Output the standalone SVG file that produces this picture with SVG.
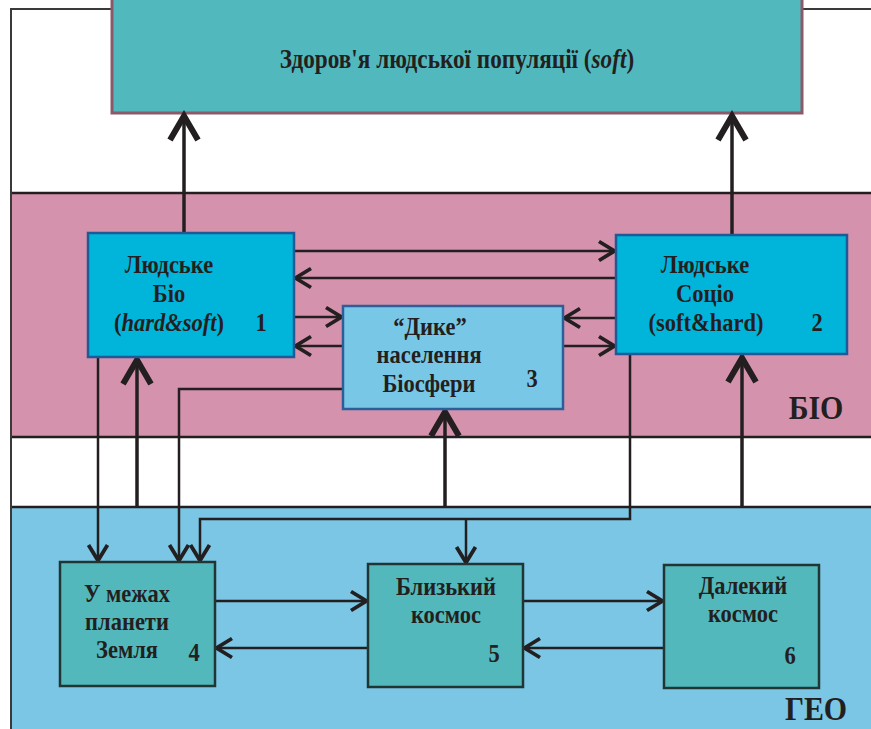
<svg xmlns="http://www.w3.org/2000/svg" width="871" height="729" viewBox="0 0 871 729">
  <style>
    .band-line { stroke: #231f20; stroke-width: 2.5; fill: none; }
    .frame { stroke: #3a3a3a; stroke-width: 2; fill: none; }
    .human { fill: #00b4da; stroke: #1f5a96; stroke-width: 2.5; }
    .wild { fill: #78c7e6; stroke: #2c5f9a; stroke-width: 2.5; }
    .geo { fill: #52b8bb; stroke: #213535; stroke-width: 2.5; }
    .t { font-family: "Liberation Serif", "Times New Roman", serif; font-weight: bold; font-size: 25px; fill: #231f20; text-anchor: middle; }
    .title { font-size: 27px; }
    .big { font-size: 34px; }
    .it { font-style: italic; }
    .thin { stroke: #231f20; stroke-width: 2.5; fill: none; marker-end: url(#ah); }
    .thick { stroke: #231f20; stroke-width: 3.5; fill: none; marker-end: url(#ahBig); }
  </style>
  <defs>
    <marker id="ah" markerUnits="userSpaceOnUse" markerWidth="30" markerHeight="30" viewBox="-25 -15 30 30" refX="0" refY="0" orient="auto" overflow="visible">
      <path d="M-17,-9.5 L-1.5,0 L-17,9.5" fill="none" stroke="#231f20" stroke-width="3.8" stroke-linejoin="miter"/>
    </marker>
    <marker id="ahBig" markerUnits="userSpaceOnUse" markerWidth="40" markerHeight="40" viewBox="-35 -20 40 40" refX="0" refY="0" orient="auto" overflow="visible">
      <path d="M-27,-14 L-3,0 L-27,14" fill="none" stroke="#231f20" stroke-width="6" stroke-linejoin="miter"/>
    </marker>
  </defs>

  <!-- background -->
  <rect x="0" y="0" width="871" height="729" fill="#ffffff"/>

  <!-- BIO band -->
  <rect x="11" y="193" width="862" height="244" fill="#d592ad"/>
  <line class="band-line" x1="11" y1="193" x2="871" y2="193"/>
  <line class="band-line" x1="11" y1="437" x2="871" y2="437"/>

  <!-- GEO band -->
  <rect x="11" y="507" width="862" height="224" fill="#7ac6e4"/>
  <line class="band-line" x1="11" y1="507" x2="871" y2="507"/>

  <!-- outer frame -->
  <path class="frame" d="M11,729 V9 H871"/>

  <!-- top node: population health -->
  <g id="node-health">
    <rect x="112" y="-5" width="690" height="118" fill="#51b9bd" stroke="#8a5a6a" stroke-width="3"/>
    <text class="t title" transform="translate(457,68) scale(0.86,1)">Здоров'я людської популяції (<tspan class="it">soft</tspan>)</text>
  </g>

  <!-- connectors -->
  <g id="connectors">
    <path class="thin" d="M294,251 H616"/>
    <path class="thin" d="M616,278 H294"/>
    <path class="thin" d="M294,317 H343"/>
    <path class="thin" d="M343,346 H294"/>
    <path class="thin" d="M616,318 H563"/>
    <path class="thin" d="M563,346 H616"/>
    <path class="thin" d="M98,357 V562"/>
    <path class="thin" d="M343,389 H179 V562"/>
    <path class="thin" d="M630,355 V519 H200 V562"/>
    <path class="thin" d="M466,519 V564"/>
    <path class="thin" d="M215,601 H368"/>
    <path class="thin" d="M368,648 H215"/>
    <path class="thin" d="M523,601 H664"/>
    <path class="thin" d="M664,648 H523"/>
    <path class="thick" d="M184,233 V113"/>
    <path class="thick" d="M732,235 V113"/>
    <path class="thick" d="M137,507 V357"/>
    <path class="thick" d="M445,507 V409"/>
    <path class="thick" d="M742,507 V355"/>
  </g>

  <!-- node 1 -->
  <g id="node-1">
    <rect class="human" x="88" y="233" width="206" height="124"/>
    <text class="t" transform="translate(169,273) scale(0.9,1)">Людське</text>
    <text class="t" transform="translate(169,302) scale(0.9,1)">Біо</text>
    <text class="t" transform="translate(169,331) scale(0.9,1)">(<tspan class="it">hard&amp;soft</tspan>)</text>
    <text class="t" transform="translate(261,331) scale(0.9,1)">1</text>
  </g>

  <!-- node 2 -->
  <g id="node-2">
    <rect class="human" x="616" y="235" width="231" height="119"/>
    <text class="t" transform="translate(705,273) scale(0.9,1)">Людське</text>
    <text class="t" transform="translate(705,302) scale(0.9,1)">Соціо</text>
    <text class="t" transform="translate(706,331) scale(0.9,1)">(soft&amp;hard)</text>
    <text class="t" transform="translate(817,331) scale(0.9,1)">2</text>
  </g>

  <!-- node 3 -->
  <g id="node-3">
    <rect class="wild" x="343" y="306" width="220" height="103"/>
    <text class="t" transform="translate(430,335) scale(0.9,1)">“Дике”</text>
    <text class="t" transform="translate(429,363) scale(0.9,1)">населення</text>
    <text class="t" transform="translate(429,392) scale(0.9,1)">Біосфери</text>
    <text class="t" transform="translate(532,387) scale(0.9,1)">3</text>
  </g>

  <!-- node 4 -->
  <g id="node-4">
    <rect class="geo" x="60" y="562" width="155" height="124"/>
    <text class="t" transform="translate(127,602) scale(0.9,1)">У межах</text>
    <text class="t" transform="translate(127,630) scale(0.9,1)">планети</text>
    <text class="t" transform="translate(127,658) scale(0.9,1)">Земля</text>
    <text class="t" transform="translate(194,661) scale(0.9,1)">4</text>
  </g>

  <!-- node 5 -->
  <g id="node-5">
    <rect class="geo" x="368" y="564" width="155" height="123"/>
    <text class="t" transform="translate(446,595) scale(0.9,1)">Близький</text>
    <text class="t" transform="translate(446,623) scale(0.9,1)">космос</text>
    <text class="t" transform="translate(494,662) scale(0.9,1)">5</text>
  </g>

  <!-- node 6 -->
  <g id="node-6">
    <rect class="geo" x="664" y="565" width="155" height="123"/>
    <text class="t" transform="translate(743,594) scale(0.9,1)">Далекий</text>
    <text class="t" transform="translate(743,622) scale(0.9,1)">космос</text>
    <text class="t" transform="translate(790,664) scale(0.9,1)">6</text>
  </g>

  <!-- band labels -->
  <text class="t big" transform="translate(816,419) scale(0.88,1)">БІО</text>
  <text class="t big" transform="translate(816,720) scale(0.88,1)">ГЕО</text>
</svg>
